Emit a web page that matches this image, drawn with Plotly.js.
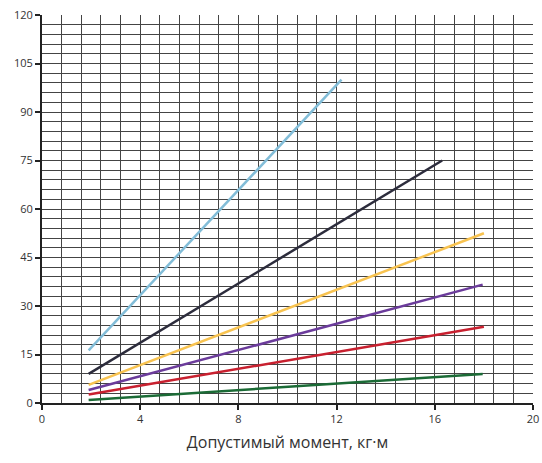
<!DOCTYPE html>
<html>
<head>
<meta charset="utf-8">
<script src="https://cdn.plot.ly/plotly-3.0.1.min.js"></script>
<style>html,body{margin:0;padding:0;background:#fff;}#chart{width:542px;height:463px;}</style>
</head>
<body>
<div id="chart"></div>
<script>
// Data
const xStart = [1.9, 1.9, 1.9, 1.9, 1.9, 1.9];
const xEnd = [12.2, 16.3, 18.0, 17.95, 18.0, 17.95];
const yStart = [16.3, 9.0, 5.6, 4.0, 2.6, 0.9];
const yEnd = [100, 75, 52.5, 36.6, 23.6, 9.0];
const lineColors = ['#82bdd8', '#2c2c3c', '#f8c350', '#6b3b9b', '#c8202f', '#1b6b36'];
const xTicks = [0, 4, 8, 12, 16, 20];
const yTicks = [0, 15, 30, 45, 60, 75, 90, 105, 120];
const xTitle = 'Допустимый момент, кг·м';

const traces = xStart.map((x0, i) => ({
  type: 'scatter', mode: 'lines',
  x: [x0, xEnd[i]], y: [yStart[i], yEnd[i]],
  line: {color: lineColors[i], width: 2.5},
  hoverinfo: 'skip', showlegend: false
}));

const gridCol = '#444';
const layout = {
  width: 542, height: 463,
  margin: {l: 42, r: 9, t: 15, b: 60},
  paper_bgcolor: '#fff', plot_bgcolor: '#fff',
  font: {family: '"Open Sans", "Noto Sans", sans-serif', color: '#333', size: 11},
  xaxis: {
    range: [0, 20], tickvals: xTicks, ticktext: xTicks.map(String),
    showgrid: true, gridcolor: gridCol, gridwidth: 1,
    minor: {dtick: 0.8, tick0: 0, showgrid: true, gridcolor: gridCol, gridwidth: 1, ticks: ''},
    showline: true, linecolor: '#222', linewidth: 2,
    ticks: 'outside', ticklen: 5, tickcolor: '#222', tickwidth: 2,
    zeroline: false, mirror: false,
    title: {text: xTitle, font: {size: 16, color: '#333'}, standoff: 12}
  },
  yaxis: {
    range: [0, 120], tickvals: yTicks, ticktext: yTicks.map(String),
    showgrid: true, gridcolor: gridCol, gridwidth: 1,
    minor: {dtick: 3, tick0: 0, showgrid: true, gridcolor: gridCol, gridwidth: 1, ticks: ''},
    showline: true, linecolor: '#222', linewidth: 2,
    ticks: 'outside', ticklen: 5, tickcolor: '#222', tickwidth: 2,
    zeroline: false
  }
};
Plotly.newPlot('chart', traces, layout, {displayModeBar: false, staticPlot: true});
</script>
</body>
</html>
